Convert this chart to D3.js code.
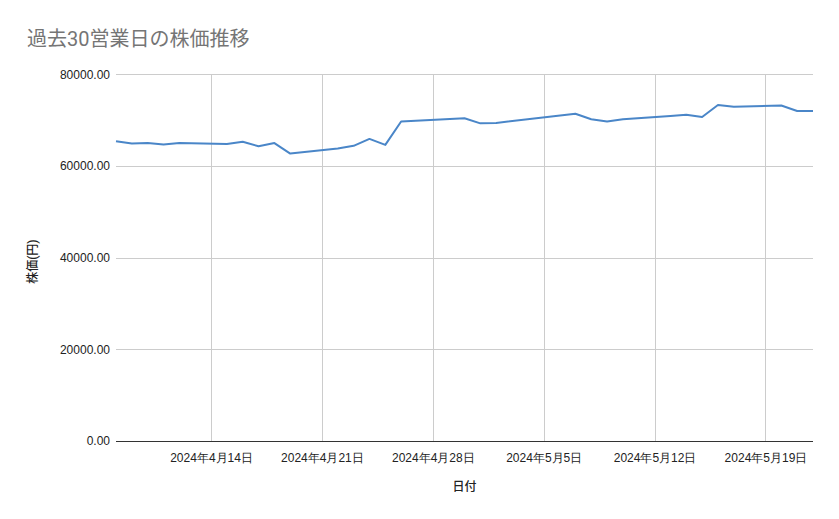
<!DOCTYPE html>
<html>
<head>
<meta charset="utf-8">
<script src="https://cdn.jsdelivr.net/npm/d3@7"></script>
<style>
	body { margin: 0; background: #fff; }
	svg { display: block; font-family: Roboto, "Noto Sans CJK JP", sans-serif; }
	.grid line { stroke: #cccccc; stroke-width: 1; }
	.tick-label { font-size: 12px; fill: #222; }
</style>
</head>
<body>
<div id="chart"></div>
<script>

///////////////////////////////////////////////////////////////////////////
///////////////////////////////// Data ////////////////////////////////////
///////////////////////////////////////////////////////////////////////////

//30 business days (Japanese holidays 4/29, 5/3, 5/6 skipped)
var dates = [
	"2024-04-08", "2024-04-09", "2024-04-10", "2024-04-11", "2024-04-12",
	"2024-04-15", "2024-04-16", "2024-04-17", "2024-04-18", "2024-04-19",
	"2024-04-22", "2024-04-23", "2024-04-24", "2024-04-25", "2024-04-26",
	"2024-04-30", "2024-05-01", "2024-05-02",
	"2024-05-07", "2024-05-08", "2024-05-09", "2024-05-10",
	"2024-05-13", "2024-05-14", "2024-05-15", "2024-05-16", "2024-05-17",
	"2024-05-20", "2024-05-21", "2024-05-22"
];
var prices = [
	65400, 64900, 65000, 64700, 65000,
	64800, 65300, 64300, 65000, 62700,
	63800, 64400, 65900, 64600, 69700,
	70400, 69300, 69400,
	71400, 70200, 69700, 70200,
	70900, 71200, 70700, 73300, 72900,
	73200, 72000, 72000
];
var yTicks = [0, 20000, 40000, 60000, 80000];
var xTicks = ["2024-04-14", "2024-04-21", "2024-04-28", "2024-05-05", "2024-05-12", "2024-05-19"];
var xDomain = ["2024-04-08", "2024-05-22"];

var titleText = "過去30営業日の株価推移",
	xTitle = "日付",
	yTitle = "株価(円)";

///////////////////////////////////////////////////////////////////////////
//////////////////////////// Set up the SVG ///////////////////////////////
///////////////////////////////////////////////////////////////////////////

var width = 839,
	height = 519;

var plot = { left: 116, right: 813, top: 74.3, bottom: 441 };

var parseDate = d3.timeParse("%Y-%m-%d");

var data = dates.map(function(d, i) {
	return { date: parseDate(d), value: prices[i] };
});

var svg = d3.select("#chart")
	.append("svg")
	.attr("width", width)
	.attr("height", height);

var x = d3.scaleTime()
	.domain(xDomain.map(parseDate))
	.range([plot.left, plot.right]);

var y = d3.scaleLinear()
	.domain([0, 80000])
	.range([plot.bottom, plot.top]);

///////////////////////////////////////////////////////////////////////////
/////////////////////////////// Gridlines /////////////////////////////////
///////////////////////////////////////////////////////////////////////////

var grid = svg.append("g").attr("class", "grid");

//Horizontal lines
grid.selectAll(".hline")
	.data(yTicks.filter(function(d) { return d > 0; }))
	.enter().append("line")
	.attr("class", "hline")
	.attr("x1", plot.left)
	.attr("x2", plot.right)
	.attr("y1", function(d) { return Math.round(y(d)) + 0.5; })
	.attr("y2", function(d) { return Math.round(y(d)) + 0.5; });

//Vertical lines
grid.selectAll(".vline")
	.data(xTicks.map(parseDate))
	.enter().append("line")
	.attr("class", "vline")
	.attr("x1", function(d) { return Math.round(x(d)) + 0.5; })
	.attr("x2", function(d) { return Math.round(x(d)) + 0.5; })
	.attr("y1", plot.top)
	.attr("y2", plot.bottom);

///////////////////////////////////////////////////////////////////////////
///////////////////////////////// Axes ////////////////////////////////////
///////////////////////////////////////////////////////////////////////////

var yAxis = svg.append("g")
	.attr("transform", "translate(" + (plot.left - 6) + ",0)")
	.call(d3.axisLeft(y).tickValues(yTicks).tickSize(0).tickPadding(0)
		.tickFormat(function(d) { return d3.format(".2f")(d); }));
yAxis.select(".domain").remove();
yAxis.selectAll("text")
	.attr("class", "tick-label")
	.attr("font-size", null)
	.attr("fill", null);

var xAxis = svg.append("g")
	.attr("transform", "translate(0," + plot.bottom + ")")
	.call(d3.axisBottom(x).tickValues(xTicks.map(parseDate)).tickSize(0).tickPadding(12)
		.tickFormat(d3.timeFormat("%Y年%-m月%-d日")));
xAxis.select(".domain").remove();
xAxis.selectAll("text")
	.attr("class", "tick-label")
	.attr("font-size", null)
	.attr("fill", null);

//Baseline
svg.append("line")
	.attr("x1", plot.left)
	.attr("x2", plot.right)
	.attr("y1", Math.round(y(0)) + 0.5)
	.attr("y2", Math.round(y(0)) + 0.5)
	.style("stroke", "#333")
	.style("stroke-width", 1);

///////////////////////////////////////////////////////////////////////////
///////////////////////////////// Line ////////////////////////////////////
///////////////////////////////////////////////////////////////////////////

var line = d3.line()
	.x(function(d) { return x(d.date); })
	.y(function(d) { return y(d.value); });

svg.append("path")
	.datum(data)
	.attr("d", line)
	.style("fill", "none")
	.style("stroke", "#4a86c8")
	.style("stroke-width", 2)
	.style("stroke-linejoin", "round");

///////////////////////////////////////////////////////////////////////////
///////////////////////////////// Titles //////////////////////////////////
///////////////////////////////////////////////////////////////////////////

svg.append("text")
	.attr("x", 27)
	.attr("y", 46)
	.style("font-size", "20px")
	.style("fill", "#757575")
	.text(titleText);

svg.append("text")
	.attr("x", (plot.left + plot.right) / 2)
	.attr("y", 491)
	.attr("text-anchor", "middle")
	.style("font-size", "12px")
	.style("font-weight", 500)
	.style("fill", "#222")
	.text(xTitle);

svg.append("text")
	.attr("transform", "translate(37," + ((plot.top + plot.bottom) / 2 + 4) + ") rotate(-90)")
	.attr("text-anchor", "middle")
	.style("font-size", "12px")
	.style("font-weight", 500)
	.style("fill", "#222")
	.text(yTitle);

</script>
</body>
</html>
